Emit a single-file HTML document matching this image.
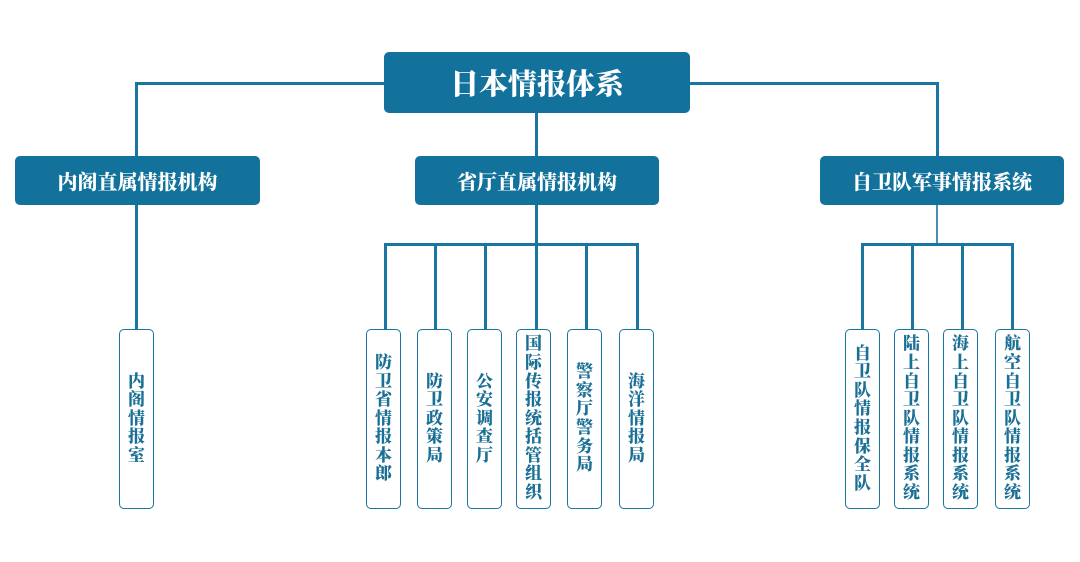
<!DOCTYPE html>
<html><head><meta charset="utf-8"><style>
body{margin:0;width:1080px;height:562px;background:#fff;position:relative;overflow:hidden;font-family:"Liberation Serif","Noto Serif CJK SC",serif;}
.l{position:absolute;background:#1a76a0;}
.b{position:absolute;background:#12729c;color:#fff;border-radius:5px;display:flex;align-items:center;justify-content:center;font-weight:900;}
.leaf{position:absolute;top:329px;height:180px;width:35px;border:1.5px solid #1a76a0;border-radius:5px;box-sizing:border-box;display:flex;align-items:center;justify-content:center;color:#1a6f95;font-weight:900;font-size:17px;line-height:18.6px;background:#fff;z-index:2}
.leaf span{width:17px;text-align:center;word-break:break-all;}
</style></head><body>
<div class="l" style="left:135px;top:82px;width:804px;height:3px"></div>
<div class="l" style="left:135px;top:82px;width:3px;height:247px"></div>
<div class="l" style="left:936px;top:82px;width:3px;height:75px"></div>
<div class="l" style="left:535px;top:110px;width:3px;height:135px"></div>
<div class="l" style="left:384px;top:243px;width:255px;height:3px"></div>
<div class="l" style="left:384px;top:243px;width:3px;height:87px"></div>
<div class="l" style="left:434px;top:243px;width:3px;height:87px"></div>
<div class="l" style="left:484px;top:243px;width:3px;height:87px"></div>
<div class="l" style="left:535px;top:243px;width:3px;height:87px"></div>
<div class="l" style="left:585px;top:243px;width:3px;height:87px"></div>
<div class="l" style="left:636px;top:243px;width:3px;height:87px"></div>
<div class="l" style="left:936px;top:200px;width:1.5px;height:45px;background:#4a8fb0"></div>
<div class="l" style="left:861px;top:243px;width:153px;height:3px"></div>
<div class="l" style="left:861px;top:243px;width:3px;height:87px"></div>
<div class="l" style="left:911px;top:243px;width:3px;height:87px"></div>
<div class="l" style="left:961px;top:243px;width:3px;height:87px"></div>
<div class="l" style="left:1011px;top:243px;width:3px;height:87px"></div>

<div class="b" style="left:384px;top:52px;width:306px;height:61px;font-size:29px">日本情报体系</div>
<div class="b" style="left:15px;top:156px;width:245px;height:49px;font-size:20px">内阁直属情报机构</div>
<div class="b" style="left:415px;top:156px;width:244px;height:49px;font-size:20px">省厅直属情报机构</div>
<div class="b" style="left:820px;top:156px;width:244px;height:49px;font-size:20px">自卫队军事情报系统</div>

<div class="leaf" style="left:119px"><span>内阁情报室</span></div>
<div class="leaf" style="left:366px"><span>防卫省情报本郎</span></div>
<div class="leaf" style="left:417px"><span>防卫政策局</span></div>
<div class="leaf" style="left:467px"><span>公安调查厅</span></div>
<div class="leaf" style="left:516px"><span>国际传报统括管组织</span></div>
<div class="leaf" style="left:567px"><span>警察厅警务局</span></div>
<div class="leaf" style="left:619px"><span>海洋情报局</span></div>
<div class="leaf" style="left:845px"><span>自卫队情报保全队</span></div>
<div class="leaf" style="left:894px"><span>陆上自卫队情报系统</span></div>
<div class="leaf" style="left:943px"><span>海上自卫队情报系统</span></div>
<div class="leaf" style="left:995px"><span>航空自卫队情报系统</span></div>
</body></html>
